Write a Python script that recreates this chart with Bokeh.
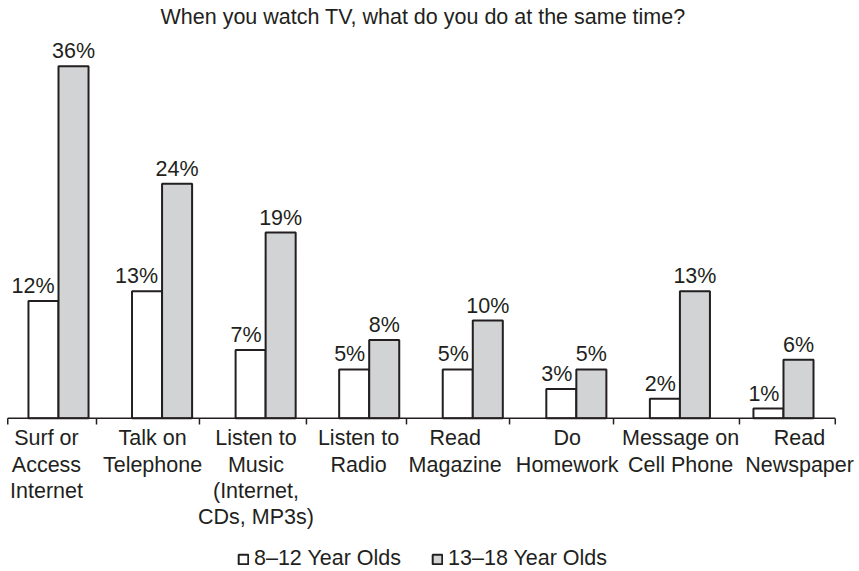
from bokeh.plotting import figure
from bokeh.models import ColumnDataSource, Range1d, Legend, LegendItem
from bokeh.transform import dodge
from bokeh.core.properties import value
from bokeh.embed import file_html
from bokeh.resources import INLINE

# ---- data ----
categories = ["Surf or\nAccess\nInternet", "Talk on\nTelephone",
              "Listen to\nMusic\n(Internet,\nCDs, MP3s)", "Listen to\nRadio",
              "Read\nMagazine", "Do\nHomework", "Message on\nCell Phone", "Read\nNewspaper"]
ages_8_12 = [12, 13, 7, 5, 5, 3, 2, 1]
ages_13_18 = [36, 24, 19, 8, 10, 5, 13, 6]
series_names = ["8\u201312 Year Olds", "13\u201318 Year Olds"]
title_text = "When you watch TV, what do you do at the same time?"

# ---- layout constants (decoration positions, in group units) ----
label_offsets = [-0.116, -0.092, -0.093, -0.103, -0.17, -0.088, 0.006, 0.155]
tick_bounds = [-0.49, 0.367, 1.361, 2.394, 3.36, 4.355, 5.359, 6.575, 7.5]
TICK_LEN = 0.62   # ~6px in value units

INK = "#231f20"
GREY = "#d1d3d4"
FONT = "Liberation Sans"
FS = "21.5px"

xs = list(range(len(categories)))
src = ColumnDataSource(dict(
    x=xs,
    a=ages_8_12,
    b=ages_13_18,
    la=[f"{v}%" for v in ages_8_12],
    lb=[f"{v}%" for v in ages_13_18],
))
cat_src = ColumnDataSource(dict(
    x=[i + o for i, o in zip(xs, label_offsets)],
    y=[0] * len(categories),
    t=categories,
))
tick_src = ColumnDataSource(dict(
    x=tick_bounds,
    y0=[0] * len(tick_bounds),
    y1=[-TICK_LEN] * len(tick_bounds),
))

p = figure(width=859, height=571, output_backend="svg", toolbar_location=None,
           x_range=Range1d(-0.56, 7.734), y_range=Range1d(-15.66, 39.66),
           x_axis_location=None, y_axis_location=None,
           min_border_left=0, min_border_right=0,
           min_border_top=0, min_border_bottom=0)
p.outline_line_color = None
p.xgrid.visible = False
p.ygrid.visible = False

W = 0.29
r1 = p.vbar(x=dodge("x", -W / 2), top="a", width=W, source=src,
            fill_color="white", line_color=INK, line_width=2)
r2 = p.vbar(x=dodge("x", W / 2), top="b", width=W, source=src,
            fill_color=GREY, line_color=INK, line_width=2)

p.text(x="x", y="a", text="la", source=src, text_align="right",
       text_baseline="alphabetic", x_offset=-4, y_offset=-15,
       text_font=value(FONT), text_font_size=FS, text_color=INK)
p.text(x=dodge("x", W / 2), y="b", text="lb", source=src, text_align="center",
       text_baseline="alphabetic", y_offset=-15,
       text_font=value(FONT), text_font_size=FS, text_color=INK)

# axis line and ticks
p.segment(x0=tick_bounds[0], y0=0, x1=tick_bounds[-1], y1=0,
          line_color=INK, line_width=1.5)
p.segment(x0="x", y0="y0", x1="x", y1="y1", source=tick_src,
          line_color=INK, line_width=1.5)

# category labels
p.text(x="x", y="y", text="t", source=cat_src, text_align="center",
       text_baseline="top", y_offset=8, text_line_height=1.09,
       text_font=value(FONT), text_font_size=FS, text_color=INK)

p.title.text = title_text
p.title.align = "left"
p.title.offset = 160
p.title.text_font = FONT
p.title.text_font_size = FS
p.title.text_font_style = "normal"
p.title.text_color = INK
p.title.standoff = 4

legend = Legend(items=[LegendItem(label=series_names[0], renderers=[r1]),
                       LegendItem(label=series_names[1], renderers=[r2])],
                orientation="horizontal", location=(237, 0),
                glyph_width=12, glyph_height=12, label_standoff=5, spacing=30,
                padding=0, margin=0, border_line_color=None,
                background_fill_alpha=0,
                label_text_font=FONT, label_text_font_size=FS, label_text_color=INK)
p.add_layout(legend)

open("out.html", "w").write(file_html(p, INLINE))
